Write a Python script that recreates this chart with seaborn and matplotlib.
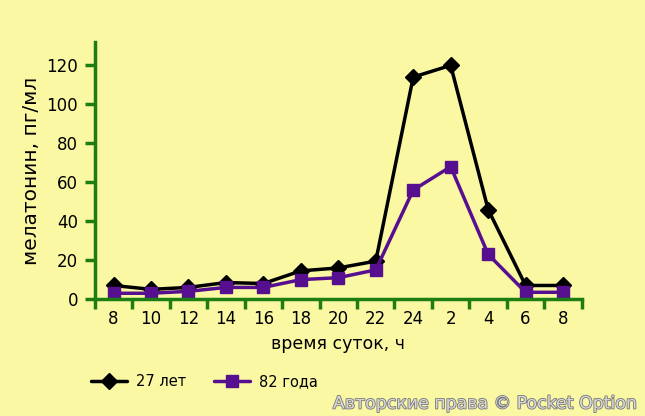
import numpy as np
import pandas as pd
import matplotlib
matplotlib.use("Agg")
import matplotlib.pyplot as plt
import matplotlib.patheffects as pe
import seaborn as sns

# данные
hours = ["8", "10", "12", "14", "16", "18", "20", "22", "24", "2", "4", "6", "8"]
young = [7, 5, 6, 8.5, 8, 14.5, 16, 19.5, 114, 120, 46, 7, 7]
old = [3, 3, 4, 6, 6, 10, 11, 15, 56, 68, 23, 3.5, 3.5]
groups = ["27 лет", "82 года"]

bg = "#fbf8a4"
green = "#1e7d12"
purple = "#560f8e"
ink = "#000000"

pos = np.arange(len(hours))
df = pd.DataFrame({
    "pos": np.concatenate([pos, pos]),
    "val": young + old,
    "group": [groups[0]] * len(hours) + [groups[1]] * len(hours),
})

sns.set_theme(style="white")
plt.rcParams["font.family"] = ["DejaVu Sans"]

fig = plt.figure(figsize=(6.45, 4.16), dpi=100, facecolor=bg)
ax = fig.add_axes([0.147, 0.281, 0.755, 0.618])
ax.set_facecolor(bg)

sns.lineplot(data=df, x="pos", y="val", hue="group", style="group",
             palette={groups[0]: "black", groups[1]: purple},
             markers={groups[0]: "D", groups[1]: "s"}, dashes=False,
             markersize=8, linewidth=2.5, markeredgewidth=1,
             ax=ax, legend=False)
for ln, c in zip(ax.lines, ["black", purple]):
    ln.set_markeredgecolor(c)

ax.set_xlim(-0.5, len(hours) - 0.5)
ax.set_ylim(0, 132)
ax.set_yticks([0, 20, 40, 60, 80, 100, 120])
ax.set_xticks(pos)
ax.set_xticklabels(hours)
ax.set_xticks(np.arange(-0.5, len(hours), 1), minor=True)
ax.tick_params(axis="x", which="major", length=0, pad=8, labelsize=12, labelcolor=ink)
ax.tick_params(axis="x", which="minor", bottom=True, length=7, width=2.5, color=green, direction="out")
ax.tick_params(axis="y", which="major", left=True, length=7, width=2.5, color=green,
               direction="out", labelsize=12, labelcolor=ink, pad=5)

for s in ["top", "right"]:
    ax.spines[s].set_visible(False)
for s in ["left", "bottom"]:
    ax.spines[s].set_color(green)
    ax.spines[s].set_linewidth(2.5)

ax.set_xlabel("время суток, ч", fontsize=12.5, color=ink, labelpad=5)
ax.set_ylabel("мелатонин, пг/мл", fontsize=14.5, color=ink, labelpad=4)

handles = [
    plt.Line2D([], [], color="black", marker="D", markersize=8, linewidth=2.5),
    plt.Line2D([], [], color=purple, marker="s", markersize=8, linewidth=2.5),
]
fig.legend(handles, groups, loc="center left", bbox_to_anchor=(0.12, 0.082),
           ncol=2, frameon=False, fontsize=10.5, handlelength=2.5,
           columnspacing=1.9, handletextpad=0.6, labelcolor=ink)

fig.text(0.99, 0.03, "Авторские права © Pocket Option", ha="right", va="center",
         fontsize=12.5, color="#d8d8d8",
         path_effects=[pe.withStroke(linewidth=1.2, foreground="#777777")])

fig.savefig("out.png", dpi=100, facecolor=bg)
